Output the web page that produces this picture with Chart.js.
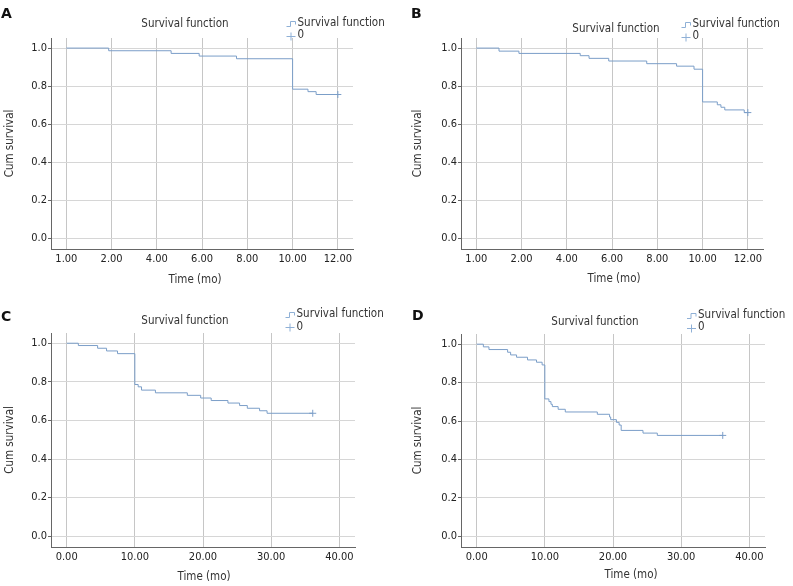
<!DOCTYPE html>
<html>
<head>
<meta charset="utf-8">
<script src="https://cdn.jsdelivr.net/npm/chart.js@4.4.0/dist/chart.umd.min.js"></script>
<style>
  body { margin: 0; background: #fff; }
  #wrap { position: relative; width: 793px; height: 586px; overflow: hidden; background: #fff; }
  canvas { position: absolute; }
  .tag { position: absolute; font: bold 14px 'DejaVu Sans', sans-serif; line-height: 14px; color: #111; }
</style>
</head>
<body>
<div id="wrap">
  <canvas id="chartA" width="396" height="292" style="left:0px;top:0px"></canvas>
  <canvas id="chartB" width="397" height="292" style="left:396px;top:0px"></canvas>
  <canvas id="chartC" width="396" height="294" style="left:0px;top:292px"></canvas>
  <canvas id="chartD" width="397" height="294" style="left:396px;top:292px"></canvas>
  <div class="tag" style="left:1px;top:6px">A</div>
  <div class="tag" style="left:411px;top:6px">B</div>
  <div class="tag" style="left:1px;top:309px">C</div>
  <div class="tag" style="left:412px;top:308px">D</div>
</div>
<script>
// tick values / labels
const yTicks = [0, 0.2, 0.4, 0.6, 0.8, 1.0];
const xTicks12 = [0, 2, 4, 6, 8, 10, 12];
const xLabels12 = ['1.00', '2.00', '4.00', '6.00', '8.00', '10.00', '12.00'];
const xTicks40 = [0, 10, 20, 30, 40];
const xLabels40 = ['0.00', '10.00', '20.00', '30.00', '40.00'];

// survival curves (time in months, cumulative survival after each event)
const timesA = [0, 1.87, 4.63, 5.87, 7.52, 10.0, 10.68, 11.04, 12.0];
const survA  = [1.0, 0.986, 0.972, 0.958, 0.944, 0.784, 0.771, 0.756, 0.756];

const timesB = [0, 1.0, 1.88, 4.59, 4.98, 5.85, 7.53, 8.85, 9.62, 10.0, 10.65, 10.81, 10.98, 11.84, 12.0];
const survB  = [1.0, 0.984, 0.972, 0.960, 0.946, 0.932, 0.918, 0.905, 0.889, 0.717, 0.702, 0.689, 0.675, 0.661, 0.661];

const timesC = [0, 1.71, 4.54, 5.85, 7.46, 10.0, 10.49, 10.98, 13.02, 17.7, 19.66, 21.2, 23.66, 25.37, 26.5, 28.3, 29.4, 36.1];
const survC  = [1.0, 0.988, 0.974, 0.960, 0.946, 0.786, 0.774, 0.757, 0.743, 0.730, 0.716, 0.703, 0.690, 0.677, 0.663, 0.650, 0.637, 0.637];

const timesD = [0, 0.98, 1.8, 4.54, 4.98, 5.85, 7.46, 8.78, 9.6, 10.0, 10.6, 10.9, 11.1, 11.95, 13.0, 17.7, 19.5, 19.66, 20.5, 20.9, 21.2, 24.4, 26.5, 36.1];
const survD  = [1.0, 0.986, 0.972, 0.958, 0.944, 0.932, 0.918, 0.906, 0.892, 0.715, 0.701, 0.687, 0.675, 0.661, 0.647, 0.635, 0.621, 0.607, 0.593, 0.579, 0.551, 0.537, 0.525, 0.525];

const legendLabels = ['Survival function', '0'];

const LINE = '#7b9ec8';
const ICON = '#8fb0d6';
const FONT = "'DejaVu Sans Condensed', 'DejaVu Sans', sans-serif";

// title, legend and x-axis title
const decor = {
  id: 'decor',
  afterDraw(chart, args, o) {
    const ctx = chart.ctx;
    ctx.save();
    ctx.font = '11.5px ' + FONT;
    ctx.fillStyle = '#333';
    ctx.textBaseline = 'middle';
    ctx.textAlign = 'center';
    ctx.fillText('Survival function', o.titleX, o.titleY);
    ctx.fillText('Time (mo)', o.xTitleX, o.xTitleY);
    ctx.textAlign = 'left';
    ctx.fillText(legendLabels[0], o.legendX, o.legendY);
    ctx.fillText(legendLabels[1], o.legendX, o.legendY + 12.5);

    const ix = o.legendX - 11;
    ctx.strokeStyle = ICON;
    ctx.lineWidth = 1;
    ctx.beginPath();
    ctx.moveTo(ix, Math.round(o.legendY) + 3.5);
    ctx.lineTo(ix + 4, Math.round(o.legendY) + 3.5);
    ctx.lineTo(ix + 4, Math.round(o.legendY) - 1.5);
    ctx.lineTo(ix + 9, Math.round(o.legendY) - 1.5);
    ctx.lineTo(ix + 9, Math.round(o.legendY) + 1.5);
    ctx.stroke();
    const cy = Math.round(o.legendY + 12.5) + 0.5;
    ctx.beginPath();
    ctx.moveTo(ix, cy);
    ctx.lineTo(ix + 9, cy);
    ctx.moveTo(ix + 4.5, cy - 4);
    ctx.lineTo(ix + 4.5, cy + 4);
    ctx.stroke();
    ctx.restore();
  }
};

function makeChart(id, times, surv, xTicks, xLabels, xMin, xMax, box) {
  const canvas = document.getElementById(id);
  const points = times.map((t, i) => ({ x: t, y: surv[i] }));
  const last = points[points.length - 1];

  return new Chart(canvas, {
    type: 'line',
    data: {
      datasets: [
        {
          data: points,
          stepped: 'before',
          borderColor: LINE,
          borderWidth: 1,
          pointRadius: 0,
          fill: false
        },
        {
          // censored case
          data: [last],
          showLine: false,
          pointStyle: 'cross',
          pointRadius: 3.5,
          borderColor: LINE,
          borderWidth: 1
        }
      ]
    },
    options: {
      responsive: false,
      animation: false,
      layout: {
        padding: { left: box.padLeft, top: box.top, right: canvas.width - box.right, bottom: 0 }
      },
      plugins: {
        legend: { display: false },
        tooltip: { enabled: false },
        decor: box
      },
      scales: {
        x: {
          type: 'linear',
          min: xMin,
          max: xMax,
          afterBuildTicks: s => { s.ticks = xTicks.map(v => ({ value: v })); },
          afterFit: s => { s.height = canvas.height - box.bottom; },
          ticks: {
            autoSkip: false,
            maxRotation: 0,
            padding: 4,
            color: '#222',
            font: { family: FONT, size: 11 },
            callback: (v, i) => xLabels[i]
          },
          grid: { color: '#c6c6c6', drawTicks: false },
          border: { display: true, color: '#666', width: 1 }
        },
        y: {
          min: -0.056,
          max: 1.053,
          afterBuildTicks: s => { s.ticks = yTicks.map(v => ({ value: v })); },
          afterFit: s => { s.width = box.yWidth; },
          ticks: {
            padding: 1,
            color: '#222',
            font: { family: FONT, size: 11 },
            callback: v => Number(v).toFixed(1)
          },
          grid: { color: '#d6d6d6', tickLength: 3, tickColor: '#666' },
          border: { display: true, color: '#666', width: 1 },
          title: {
            display: true,
            text: 'Cum survival',
            color: '#333',
            font: { family: FONT, size: 11.5 },
            padding: { top: 3, bottom: 3 }
          }
        }
      }
    },
    plugins: [decor]
  });
}

makeChart('chartA', timesA, survA, xTicks12, xLabels12, -0.68, 12.67,
  { padLeft: 0, yWidth: 51, right: 353, top: 38, bottom: 249,
    titleX: 185, titleY: 24, legendX: 297.5, legendY: 23, xTitleX: 195, xTitleY: 280.5 });

makeChart('chartB', timesB, survB, xTicks12, xLabels12, -0.68, 12.67,
  { padLeft: 12, yWidth: 53, right: 367, top: 38, bottom: 249,
    titleX: 220, titleY: 29, legendX: 296.5, legendY: 24, xTitleX: 218, xTitleY: 279.5 });

makeChart('chartC', timesC, survC, xTicks40, xLabels40, -2.3, 42.3,
  { padLeft: 0, yWidth: 51, right: 355, top: 41, bottom: 255,
    titleX: 185, titleY: 29, legendX: 296.5, legendY: 22.3, xTitleX: 204, xTitleY: 285 });

makeChart('chartD', timesD, survD, xTicks40, xLabels40, -2.3, 42.3,
  { padLeft: 12, yWidth: 53, right: 369, top: 42, bottom: 255,
    titleX: 199, titleY: 29.7, legendX: 302, legendY: 23, xTitleX: 235, xTitleY: 283 });
</script>
</body>
</html>
